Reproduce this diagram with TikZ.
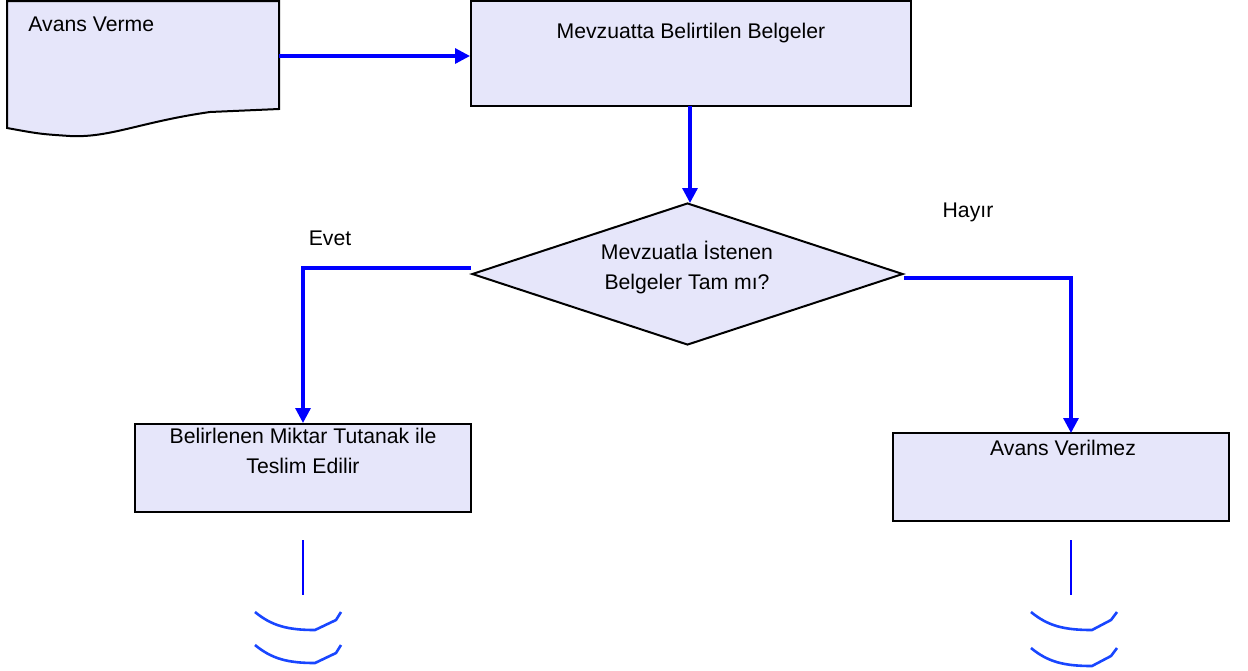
\documentclass[tikz,border=0pt]{standalone}
\usepackage{fontspec}
\setmainfont{Liberation Sans}
\usetikzlibrary{arrows.meta,shapes.geometric}
\definecolor{boxfill}{RGB}{230,230,250}
\definecolor{arcblue}{RGB}{25,70,255}
\tikzset{
  box/.style={draw=black,line width=1pt,fill=boxfill,rectangle,inner sep=0pt},
  lbl/.style={inner sep=0pt,font=\fontsize{10.6}{15}\selectfont,align=center},
  conn/.style={draw=blue,line width=1.6pt,-{Triangle[length=7.5pt,width=7.5pt]}},
  tail/.style={draw=blue,line width=1.4pt},
  arcs/.style={draw=arcblue,line width=1.3pt}
}
\begin{document}
\begin{tikzpicture}[x=0.5pt,y=-0.5pt]
\useasboundingbox (0,0) rectangle (1248,670);
% document shape
\draw[line width=1pt,fill=boxfill] (7,1) -- (279,1) -- (279,109) -- (210,112)
  .. controls (140,122) and (110,138) .. (70,136)
  .. controls (40,134) .. (7,128) -- cycle;
\coordinate (docR) at (279,56);
\node[lbl,anchor=west] (tdoc) at (28,24) {Avans Verme};
% boxes
\node[box,minimum width=220pt,minimum height=52.5pt] (b1) at (691,53.5) {};
\node[lbl] (tb1) at (691,33) {Mevzuatta Belirtilen Belgeler};
\node[box,shape=diamond,minimum width=215.5pt,minimum height=71pt] (dia) at (687.5,274) {};
\node[lbl] (tdia) at (687,267) {Mevzuatla İstenen\\Belgeler Tam mı?};
\node[box,minimum width=168pt,minimum height=44pt] (lb) at (303,468) {};
\node[lbl] (tlb) at (303,451) {Belirlenen Miktar Tutanak ile\\Teslim Edilir};
\node[box,minimum width=168pt,minimum height=44pt] (rb) at (1061,477) {};
\node[lbl] (trb) at (1063,448) {Avans Verilmez};
% labels
\node[lbl] (evet) at (330,238) {Evet};
\node[lbl] (hayir) at (968,212) {Hayır};
% connectors
\draw[conn] (docR) -- (b1.west |- docR);
\draw[conn] (690,106) -- (690,203);
\draw[conn] ([yshift=3pt]dia.west) -| (lb.north);
\coordinate (rbin) at (1071,433);
\draw[conn] ([yshift=-2pt]dia.east) -| (rbin);
% tails
\coordinate (lt1) at (303,540); \coordinate (lt2) at (303,595);
\draw[tail] (lt1) -- (lt2);
\coordinate (rt1) at (1071,540); \coordinate (rt2) at (1071,595);
\draw[tail] (rt1) -- (rt2);
% arcs
\draw[arcs] (255,612) .. controls (272,626) and (288,630) .. (315,630) -- (336,620) -- (341,612);
\draw[arcs] (255,645) .. controls (272,659) and (288,663) .. (315,663) -- (336,653) -- (341,645);
\draw[arcs] (1031,612) .. controls (1048,626) and (1064,630) .. (1092,630) -- (1111,620) -- (1117,612);
\draw[arcs] (1031,648) .. controls (1048,662) and (1064,666) .. (1092,666) -- (1111,656) -- (1117,648);
\end{tikzpicture}
\end{document}
